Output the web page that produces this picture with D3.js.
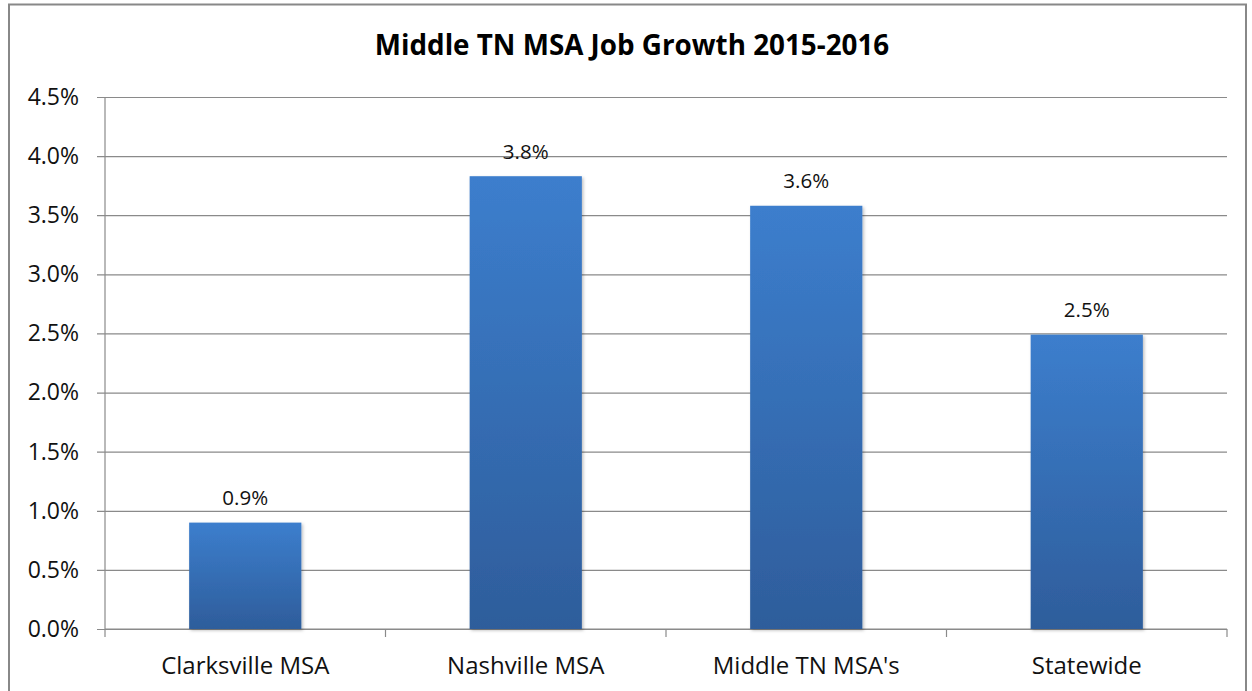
<!DOCTYPE html>
<html>
<head>
<meta charset="utf-8">
<script src="https://cdn.jsdelivr.net/npm/d3@7"></script>
<style>
  html, body { margin: 0; padding: 0; background: #fff; }
  svg { display: block; font-family: "Open Sans", "Noto Sans", sans-serif; }
</style>
</head>
<body>
<svg id="chart" width="1252" height="691"></svg>
<script>
// Job growth by area, 2015-2016 (fraction of employment)
const categories = ["Clarksville MSA", "Nashville MSA", "Middle TN MSA's", "Statewide"];
const growth = [0.0090, 0.0383, 0.0358, 0.0249];
const yTicks = [0, 0.005, 0.01, 0.015, 0.02, 0.025, 0.03, 0.035, 0.04, 0.045];
const title = "Middle TN MSA Job Growth 2015-2016";

const svg = d3.select("#chart");
const plot = { left: 105, right: 1227, top: 97, bottom: 629 };
const font = "\"Open Sans\", \"Noto Sans\", sans-serif";

// frame around the chart
svg.append("rect")
  .attr("x", 9).attr("y", 4.5)
  .attr("width", 1237).attr("height", 700)
  .attr("fill", "#fff").attr("stroke", "#888").attr("stroke-width", 2);

const defs = svg.append("defs");
const grad = defs.append("linearGradient")
  .attr("id", "barGrad").attr("x1", 0).attr("y1", 0).attr("x2", 0).attr("y2", 1);
grad.append("stop").attr("offset", "0%").attr("stop-color", "#3c7ecd");
grad.append("stop").attr("offset", "100%").attr("stop-color", "#2e5d9b");

const shadow = defs.append("filter").attr("id", "barShadow")
  .attr("x", "-10%").attr("y", "-10%").attr("width", "130%").attr("height", "130%");
shadow.append("feDropShadow")
  .attr("dx", 1.5).attr("dy", 1.5).attr("stdDeviation", 1.5)
  .attr("flood-color", "#000").attr("flood-opacity", 0.25);

const x = d3.scaleBand().domain(categories)
  .range([plot.left, plot.right]).paddingInner(0.6).paddingOuter(0.3);
const y = d3.scaleLinear().domain([0, 0.045]).range([plot.bottom, plot.top]);

// horizontal gridlines with left tick stubs
const yAxis = d3.axisLeft(y)
  .tickValues(yTicks)
  .tickFormat(d3.format(".1%"))
  .tickSize(-(plot.right - plot.left))
  .tickSizeOuter(0)
  .tickPadding(26);

const gy = svg.append("g")
  .attr("transform", `translate(${plot.left},0)`)
  .call(yAxis);
gy.select(".domain").remove();
gy.selectAll(".tick line")
  .attr("x1", -8)
  .attr("stroke", "#8a8a8a").attr("stroke-width", 1.2);
gy.selectAll(".tick text")
  .attr("font-size", 23).attr("fill", "#111")
  .attr("font-family", font);

// vertical axis line
svg.append("line")
  .attr("x1", plot.left).attr("x2", plot.left)
  .attr("y1", plot.top).attr("y2", plot.bottom)
  .attr("stroke", "#8a8a8a").attr("stroke-width", 1.2);

// x axis with ticks at category boundaries
const boundaries = d3.range(categories.length + 1)
  .map(i => plot.left + i * (plot.right - plot.left) / categories.length);
const gx = svg.append("g");
gx.append("line")
  .attr("x1", plot.left).attr("x2", plot.right)
  .attr("y1", plot.bottom).attr("y2", plot.bottom)
  .attr("stroke", "#8a8a8a").attr("stroke-width", 1.2);
gx.selectAll("line.tk").data(boundaries).join("line")
  .attr("class", "tk")
  .attr("x1", d => d).attr("x2", d => d)
  .attr("y1", plot.bottom).attr("y2", plot.bottom + 8)
  .attr("stroke", "#8a8a8a").attr("stroke-width", 1.2);
gx.selectAll("text").data(categories).join("text")
  .attr("x", d => x(d) + x.bandwidth() / 2)
  .attr("y", 674)
  .attr("text-anchor", "middle")
  .attr("font-size", 24).attr("fill", "#111")
  .text(d => d);

// bars
const data = categories.map((c, i) => ({ c, v: growth[i] }));
svg.append("g").selectAll("rect").data(data).join("rect")
  .attr("x", d => x(d.c))
  .attr("width", x.bandwidth())
  .attr("y", d => y(d.v))
  .attr("height", d => y(0) - y(d.v))
  .attr("fill", "url(#barGrad)")
  .attr("filter", "url(#barShadow)");

// value labels
svg.append("g").selectAll("text").data(data).join("text")
  .attr("x", d => x(d.c) + x.bandwidth() / 2)
  .attr("y", d => y(d.v) - 17.5)
  .attr("text-anchor", "middle")
  .attr("font-size", 20.5).attr("fill", "#111")
  .text(d => d3.format(".1%")(d.v));

// title
svg.append("text")
  .attr("x", 632).attr("y", 55)
  .attr("text-anchor", "middle")
  .attr("font-size", 27.8).attr("font-weight", "bold").attr("fill", "#000")
  .text(title);
</script>
</body>
</html>
